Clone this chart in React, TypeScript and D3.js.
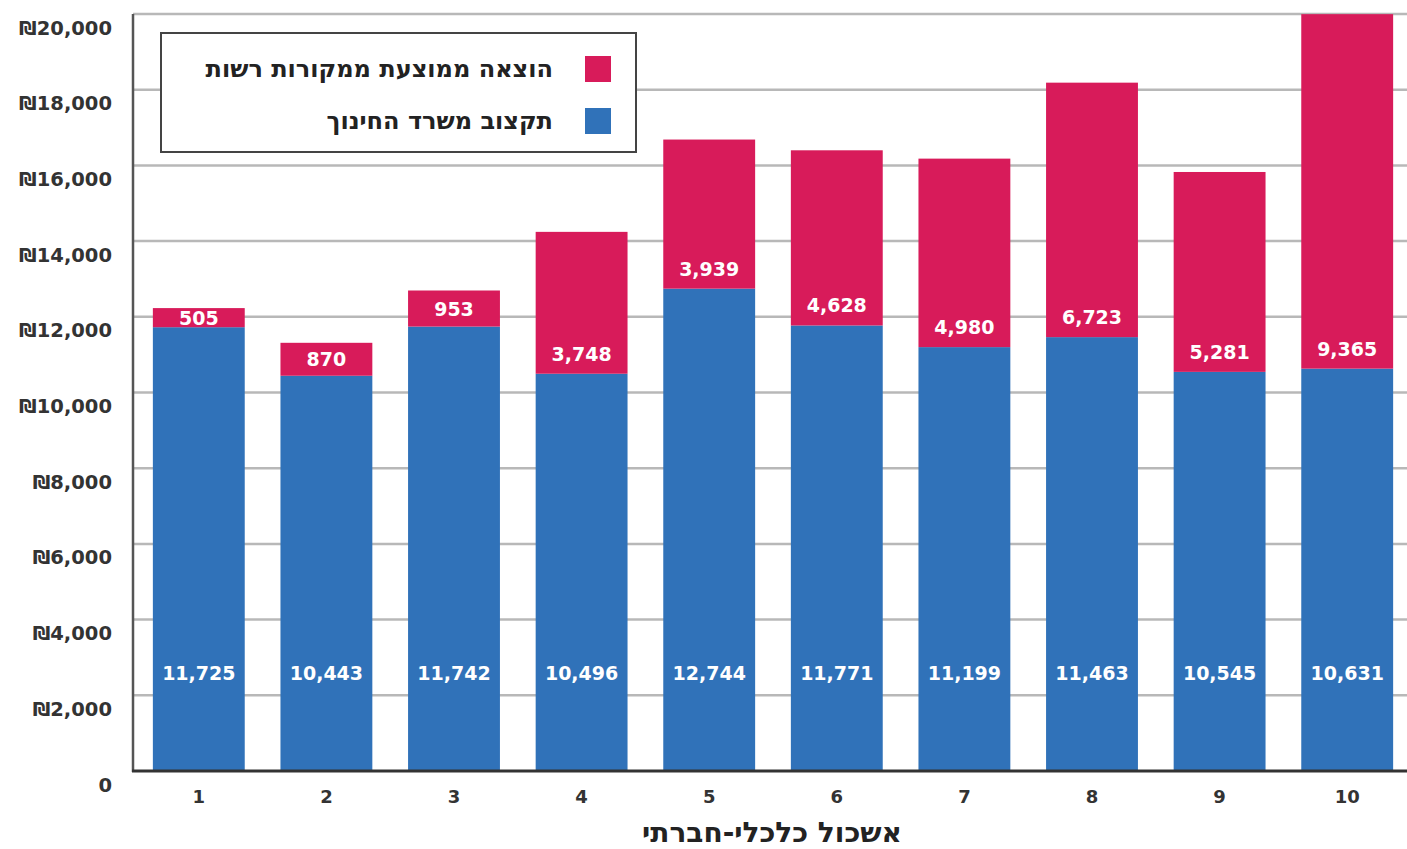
import React from "react";
import * as d3 from "d3";

const categories = ["1", "2", "3", "4", "5", "6", "7", "8", "9", "10"];
const ministryBudget = [11725, 10443, 11742, 10496, 12744, 11771, 11199, 11463, 10545, 10631];
const authoritySpend = [505, 870, 953, 3748, 3939, 4628, 4980, 6723, 5281, 9365];
const yTicks = [0, 2000, 4000, 6000, 8000, 10000, 12000, 14000, 16000, 18000, 20000];
const seriesNames = ["הוצאה ממוצעת ממקורות רשות", "תקצוב משרד החינוך"];
const xTitle = "אשכול כלכלי-חברתי";

const W = 1407;
const H = 849;
const RED = "#d81b5a";
const BLUE = "#3072b9";
const FONT = "'DejaVu Sans', 'Liberation Sans', sans-serif";

export default function App() {
  const left = 133;
  const right = W;
  const y0 = 771;
  const yTop = 14;
  const x = d3.scaleBand<string>().domain(categories).range([135, 1411]).paddingInner(0.28).paddingOuter(0.14);
  const y = d3.scaleLinear().domain([0, 20000]).range([y0, yTop]);
  const fmt = d3.format(",");

  return (
    <div style={{ position: "fixed", left: 0, top: 0 }}>
      <svg width={W} height={H} style={{ display: "block", background: "#fff" }}>
        {yTicks.filter((t) => t > 0).map((t) => (
          <line key={t} x1={left} x2={right} y1={y(t)} y2={y(t)} stroke="#b8b8b8" strokeWidth={2.5} />
        ))}
        {yTicks.map((t) => (
          <text
            key={"l" + t}
            x={112}
            y={y(t) + 14}
            textAnchor="end"
            dominantBaseline="central"
            fontFamily={FONT}
            fontWeight="bold"
            fontSize={19.5}
            fill="#333"
          >
            {t === 0 ? "0" : "₪" + fmt(t)}
          </text>
        ))}
        {categories.map((c, i) => {
          const bx = x(c)!;
          const bw = x.bandwidth();
          const b = ministryBudget[i];
          const r = authoritySpend[i];
          const blueTop = y(b);
          const redTop = y(b + r);
          const segH = blueTop - redTop;
          const redLabelY = blueTop - Math.min(segH / 2, 20);
          return (
            <g key={c}>
              <rect x={bx} y={blueTop} width={bw} height={y0 - blueTop} fill={BLUE} />
              <rect x={bx} y={redTop} width={bw} height={segH} fill={RED} />
              <text
                x={bx + bw / 2}
                y={redLabelY}
                textAnchor="middle"
                dominantBaseline="central"
                fontFamily={FONT}
                fontWeight="bold"
                fontSize={19}
                fill="#fff"
              >
                {fmt(r)}
              </text>
              <text
                x={bx + bw / 2}
                y={y(2600)}
                textAnchor="middle"
                dominantBaseline="central"
                fontFamily={FONT}
                fontWeight="bold"
                fontSize={19}
                fill="#fff"
              >
                {fmt(b)}
              </text>
              <text
                x={bx + bw / 2}
                y={796}
                textAnchor="middle"
                dominantBaseline="central"
                fontFamily={FONT}
                fontWeight="bold"
                fontSize={18}
                fill="#333"
              >
                {c}
              </text>
            </g>
          );
        })}
        <line x1={left} x2={left} y1={yTop} y2={y0 + 1} stroke="#555" strokeWidth={2.5} />
        <line x1={left - 1} x2={right} y1={y0} y2={y0} stroke="#333" strokeWidth={3} />
        <rect x={161} y={33} width={475} height={119} fill="#fff" stroke="#444" strokeWidth={2} />
        {seriesNames.map((s, i) => {
          const cy = 69 + i * 52;
          return (
            <g key={s}>
              <rect x={585} y={cy - 13} width={26} height={26} fill={i === 0 ? RED : BLUE} />
              <text
                x={553}
                y={cy}
                textAnchor="start"
                dominantBaseline="central"
                fontFamily={FONT}
                fontWeight="bold"
                fontSize={24}
                fill="#222"
                direction="rtl"
              >
                {s}
              </text>
            </g>
          );
        })}
        <text
          x={772}
          y={832}
          textAnchor="middle"
          dominantBaseline="central"
          fontFamily={FONT}
          fontWeight="bold"
          fontSize={28}
          fill="#222"
          direction="rtl"
        >
          {xTitle}
        </text>
      </svg>
    </div>
  );
}
